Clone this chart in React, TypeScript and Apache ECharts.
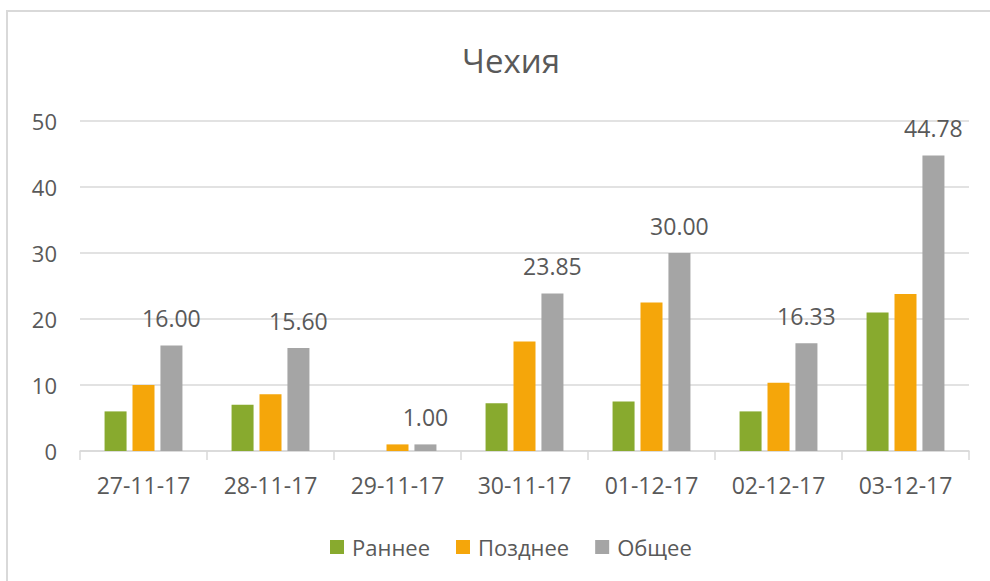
import React, { useEffect, useRef } from "react";
import * as echarts from "echarts";

const categories = ["27-11-17", "28-11-17", "29-11-17", "30-11-17", "01-12-17", "02-12-17", "03-12-17"];
const early = [6.0, 7.0, 0, 7.25, 7.5, 6.0, 21.0];
const late = [10.0, 8.6, 1.0, 16.6, 22.5, 10.33, 23.78];
const total = [16.0, 15.6, 1.0, 23.85, 30.0, 16.33, 44.78];
const seriesNames = ["Раннее", "Позднее", "Общее"];
const yTicks = { min: 0, max: 50, interval: 10 };
const titleText = "Чехия";

const FONT = "'Open Sans', 'Noto Sans', sans-serif";
const TXT = "#595959";
const LINE = "#d9d9d9";

export default function App() {
  const ref = useRef<HTMLDivElement>(null);
  useEffect(() => {
    if (!ref.current) return;
    const chart = echarts.init(ref.current, undefined, { renderer: "svg" });
    chart.setOption({
      animation: false,
      backgroundColor: "#ffffff",
      textStyle: { fontFamily: FONT },
      graphic: [
        {
          type: "rect",
          shape: { x: 7, y: 11, width: 1000, height: 600 },
          style: { fill: "none", stroke: LINE, lineWidth: 2 },
          silent: true,
          z: -1,
        },
      ],
      title: {
        text: titleText,
        left: 506,
        top: 39,
        textAlign: "center",
        textStyle: { fontFamily: FONT, fontSize: 33, fontWeight: "normal", color: TXT },
      },
      legend: {
        data: seriesNames,
        left: 325,
        top: 531,
        icon: "rect",
        itemWidth: 14,
        itemHeight: 14,
        itemGap: 26,
        textStyle: { fontFamily: FONT, fontSize: 22, color: TXT, padding: [0, 0, 0, 3] },
      },
      grid: { left: 80, right: 21, top: 121, bottom: 130 },
      xAxis: {
        type: "category",
        data: categories,
        axisLine: { lineStyle: { color: LINE, width: 1.5 } },
        axisTick: { show: true, length: 9, lineStyle: { color: LINE, width: 1.5 } },
        axisLabel: { color: TXT, fontFamily: FONT, fontSize: 23, margin: 22 },
      },
      yAxis: {
        type: "value",
        min: yTicks.min,
        max: yTicks.max,
        interval: yTicks.interval,
        axisLine: { show: false },
        axisTick: { show: false },
        splitLine: { lineStyle: { color: LINE, width: 1.5 } },
        axisLabel: { color: TXT, fontFamily: FONT, fontSize: 22, margin: 23 },
      },
      series: [
        {
          name: seriesNames[0],
          type: "bar",
          data: early,
          barWidth: 22,
          barGap: "27%",
          itemStyle: { color: "#88AA2E" },
        },
        {
          name: seriesNames[1],
          type: "bar",
          data: late,
          barWidth: 22,
          barGap: "27%",
          itemStyle: { color: "#F5A60A" },
        },
        {
          name: seriesNames[2],
          type: "bar",
          data: total,
          barWidth: 22,
          barGap: "27%",
          itemStyle: { color: "#A5A5A5" },
          label: {
            show: true,
            position: "top",
            distance: 16,
            color: TXT,
            fontFamily: FONT,
            fontSize: 23,
            formatter: (p: any) => Number(p.value).toFixed(2),
          },
        },
      ],
    });
    return () => chart.dispose();
  }, []);
  return (
    <div
      ref={ref}
      style={{ position: "fixed", left: 0, top: 0, width: 990, height: 581 }}
    />
  );
}
